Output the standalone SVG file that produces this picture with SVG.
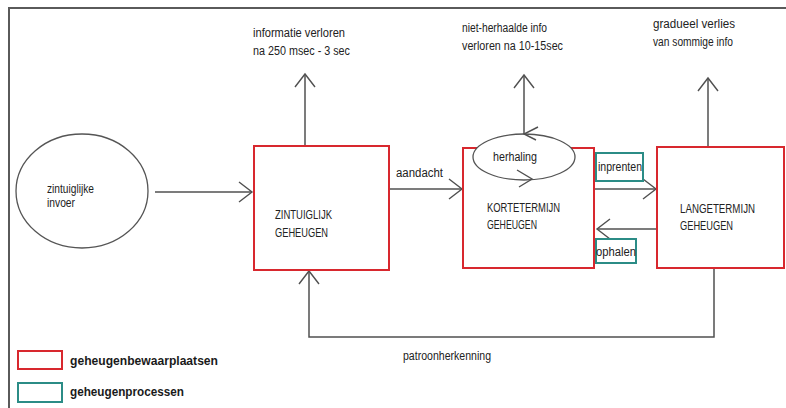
<svg xmlns="http://www.w3.org/2000/svg" width="786" height="408" viewBox="0 0 786 408">
<defs>
<marker id="arr" markerUnits="userSpaceOnUse" markerWidth="20" markerHeight="24" viewBox="-16 -12 18 24" refX="0" refY="0" orient="auto">
<path d="M-13,-10 L0,0 L-13,10" fill="none" stroke="#505050" stroke-width="1.4"/>
</marker>
<style>
text{font-family:"Liberation Sans",Arial,sans-serif;font-size:12.5px;fill:#222}
.lbl{font-size:12px}
.leg{font-weight:bold;font-size:12px;fill:#1a1a1a}
.store{fill:#fff;stroke:#d8282e;stroke-width:2}
.proc{fill:#fff;stroke:#2b8c86;stroke-width:2}
.ell{fill:#fff;stroke:#555;stroke-width:1.3}
.con{fill:none;stroke:#505050;stroke-width:1.5}
.con2{fill:none;stroke:#505050;stroke-width:1.4}
</style>
</defs>
<rect width="786" height="408" fill="#fff"/>
<path d="M9,410 L9,8 L790,8" fill="none" stroke="#5a5a5a" stroke-width="2"/>

<g id="connectors">
<line class="con" x1="155" y1="192" x2="252" y2="192" marker-end="url(#arr)"/>
<line class="con" x1="390" y1="189" x2="462" y2="189" marker-end="url(#arr)"/>
<line class="con" x1="595" y1="189" x2="656" y2="189" marker-end="url(#arr)"/>
<line class="con" x1="656" y1="229" x2="597" y2="229" marker-end="url(#arr)"/>
<line class="con" x1="305" y1="146" x2="305" y2="74" marker-end="url(#arr)"/>
<line class="con" x1="524" y1="134" x2="524" y2="75" marker-end="url(#arr)"/>
<line class="con" x1="708" y1="147" x2="708" y2="78" marker-end="url(#arr)"/>
<polyline class="con" points="714,268 714,337 309,337 309,271" marker-end="url(#arr)"/>
</g>

<g id="zintuiglijke-invoer">
<ellipse class="ell" cx="82" cy="191" rx="66" ry="57"/>
<text x="47" y="193" textLength="47" lengthAdjust="spacingAndGlyphs">zintuiglijke</text>
<text x="47" y="207" textLength="28" lengthAdjust="spacingAndGlyphs">invoer</text>
</g>

<g id="zintuiglijk-geheugen">
<rect class="store" x="254" y="146" width="135" height="124"/>
<text x="275" y="219" textLength="57" lengthAdjust="spacingAndGlyphs">ZINTUIGLIJK</text>
<text x="275" y="237" textLength="53" lengthAdjust="spacingAndGlyphs">GEHEUGEN</text>
</g>

<g id="kortetermijn-geheugen">
<rect class="store" x="463" y="148" width="131" height="120"/>
<text x="487" y="212" textLength="73" lengthAdjust="spacingAndGlyphs">KORTETERMIJN</text>
<text x="487" y="229" textLength="50" lengthAdjust="spacingAndGlyphs">GEHEUGEN</text>
</g>

<g id="herhaling">
<ellipse class="ell" cx="524" cy="157" rx="51" ry="23"/>
<text x="493" y="161" textLength="44" lengthAdjust="spacingAndGlyphs">herhaling</text>
<path class="con2" d="M538,127 L524,134 L536,140"/>
<path class="con2" d="M517,170 L532,179 L519,187"/>
</g>

<g id="langetermijn-geheugen">
<rect class="store" x="657" y="147" width="127" height="121"/>
<text x="680" y="213" textLength="75" lengthAdjust="spacingAndGlyphs">LANGETERMIJN</text>
<text x="680" y="230" textLength="53" lengthAdjust="spacingAndGlyphs">GEHEUGEN</text>
</g>

<g id="inprenten">
<rect class="proc" x="596" y="153" width="47" height="28"/>
<text x="598" y="171" textLength="44" lengthAdjust="spacingAndGlyphs">inprenten</text>
</g>

<g id="ophalen">
<rect class="proc" x="596" y="239" width="40" height="24"/>
<text x="596" y="256" textLength="40" lengthAdjust="spacingAndGlyphs">ophalen</text>
</g>

<g id="labels">
<text class="lbl" x="253" y="37" textLength="92" lengthAdjust="spacingAndGlyphs">informatie verloren</text>
<text class="lbl" x="253" y="55" textLength="97" lengthAdjust="spacingAndGlyphs">na 250 msec - 3 sec</text>
<text class="lbl" x="462" y="32" textLength="85" lengthAdjust="spacingAndGlyphs">niet-herhaalde info</text>
<text class="lbl" x="462" y="50" textLength="101" lengthAdjust="spacingAndGlyphs">verloren na 10-15sec</text>
<text class="lbl" x="653" y="28" textLength="82" lengthAdjust="spacingAndGlyphs">gradueel verlies</text>
<text class="lbl" x="653" y="46" textLength="80" lengthAdjust="spacingAndGlyphs">van sommige info</text>
<text class="lbl" x="396" y="177" textLength="47" lengthAdjust="spacingAndGlyphs">aandacht</text>
<text class="lbl" x="403" y="360" textLength="88" lengthAdjust="spacingAndGlyphs">patroonherkenning</text>
</g>

<g id="legend">
<rect class="store" x="18" y="351" width="44" height="18"/>
<text class="leg" x="70" y="365" textLength="148" lengthAdjust="spacingAndGlyphs">geheugenbewaarplaatsen</text>
<rect class="proc" x="18" y="383" width="44" height="19"/>
<text class="leg" x="70" y="396" textLength="114" lengthAdjust="spacingAndGlyphs">geheugenprocessen</text>
</g>
</svg>
